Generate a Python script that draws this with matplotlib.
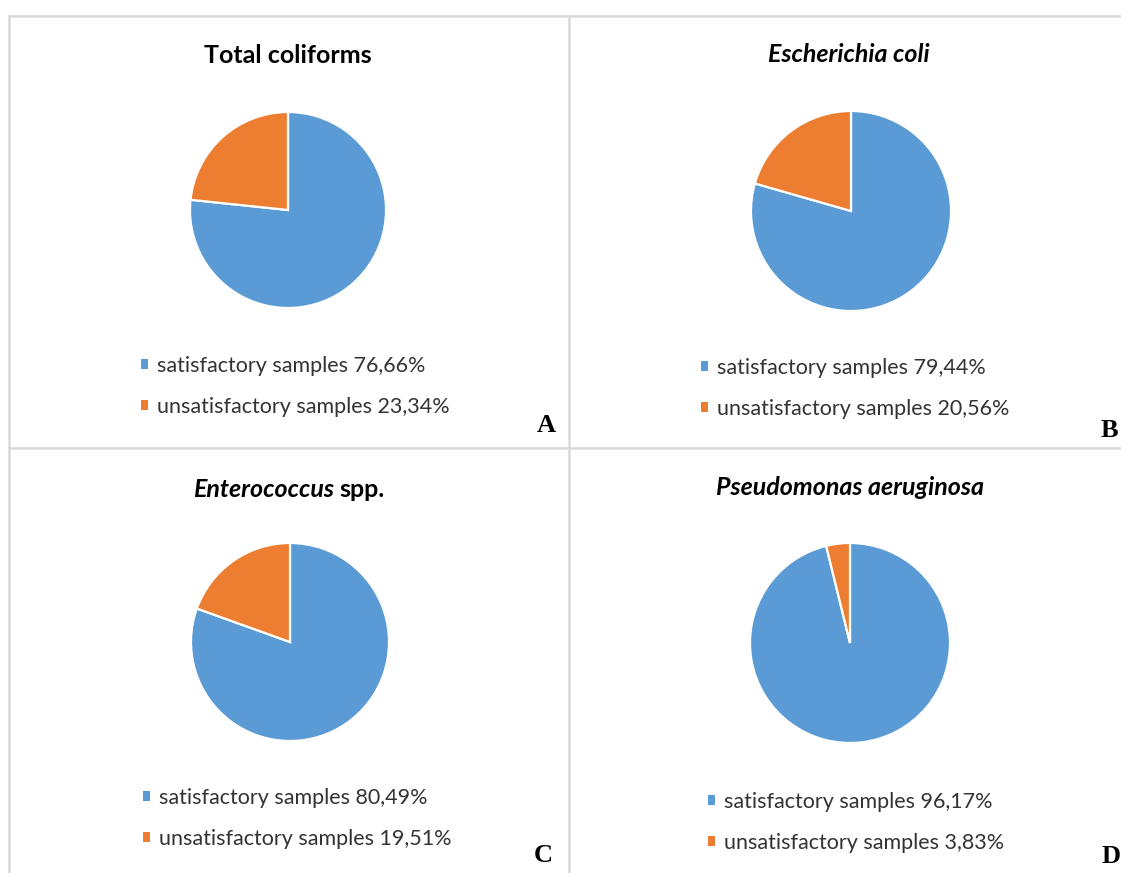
import matplotlib
matplotlib.use('Agg')
import matplotlib.pyplot as plt
from matplotlib.patches import Patch
from matplotlib.lines import Line2D

# dados das quatro análises microbiológicas (%)
categorias = ['satisfactory samples', 'unsatisfactory samples']
satisfatorias = [76.66, 79.44, 80.49, 96.17]
insatisfatorias = [23.34, 20.56, 19.51, 3.83]
letras = ['A', 'B', 'C', 'D']
# títulos em partes: (texto, estilo)
titulos = [
    [('Total coliforms', 'normal')],
    [('Escherichia coli', 'italic')],
    [('Enterococcus', 'italic'), ('spp.', 'normal')],
    [('Pseudomonas aeruginosa', 'italic')],
]
cores = ['#5B9BD5', '#ED7D31']

W, H, DPI = 1121, 873, 100
FONTE = ['Lato', 'DejaVu Sans']

# posição de cada painel em pixels: centro da pizza, raio, título, legenda, letra
layout = [
    dict(c=(288, 210), r=98, tit=(288, 63), leg=(141, 356), let=(537, 432)),
    dict(c=(851, 211), r=100, tit=(849, 62), leg=(701, 358), let=(1101, 437)),
    dict(c=(290, 642), r=99, tit=(289, 497), leg=(143, 788), let=(534, 862)),
    dict(c=(850, 643), r=100, tit=(850, 495), leg=(708, 792), let=(1102, 863)),
]


def fx(x):
    return x / W


def fy(y):
    return 1 - y / H


fig = plt.figure(figsize=(W / DPI, H / DPI), dpi=DPI)
fig.patch.set_facecolor('white')

# linhas de separação dos painéis
cinza = '#d9d9d9'
for (x0, y0, x1, y1) in [(9, 16, W, 16), (9, 448, W, 448), (9, 16, 9, H), (569, 16, 569, H)]:
    fig.add_artist(Line2D([fx(x0), fx(x1)], [fy(y0), fy(y1)], color=cinza, lw=1.8,
                          transform=fig.transFigure))

titulo_partes = []
for i, lay in enumerate(layout):
    cx, cy = lay['c']
    r = lay['r']
    ax = fig.add_axes([fx(cx - r), fy(cy + r), 2 * r / W, 2 * r / H])
    valores = [satisfatorias[i], insatisfatorias[i]]
    ax.pie(valores, colors=cores, startangle=90, counterclock=False, radius=1,
           wedgeprops=dict(edgecolor='white', linewidth=1.6))
    ax.set_xlim(-1, 1)
    ax.set_ylim(-1, 1)
    ax.axis('off')

    # legenda abaixo da pizza
    rotulos = [f'{cat} {v:.2f}%'.replace('.', ',') for cat, v in zip(categorias, valores)]
    handles = [Patch(facecolor=c, edgecolor='none') for c in cores]
    lx, ly = lay['leg']
    fig.legend(handles, rotulos, loc='upper left', bbox_to_anchor=(fx(lx), fy(ly)),
               bbox_transform=fig.transFigure, frameon=False, borderpad=0,
               borderaxespad=0, handlelength=0.33, handleheight=0.33,
               handletextpad=0.4, labelspacing=0.98,
               prop=dict(family=FONTE, size=15.5), labelcolor='#333333')

    # letra do painel
    lx, ly = lay['let']
    fig.text(fx(lx), fy(ly), letras[i], ha='left', va='baseline',
             family='Liberation Serif', weight='bold', size=19, color='black')

    # título (partes com estilos diferentes)
    tx, ty = lay['tit']
    partes = []
    for txt, estilo in titulos[i]:
        t = fig.text(fx(tx), fy(ty), txt, ha='left', va='baseline', family=FONTE,
                     weight='bold', style=estilo, size=18, color='black')
        partes.append(t)
    titulo_partes.append((tx, partes))

# centralizar os títulos depois de medir as partes
fig.canvas.draw()
rend = fig.canvas.get_renderer()
espaco = 5
for tx, partes in titulo_partes:
    larguras = [p.get_window_extent(rend).width for p in partes]
    total = sum(larguras) + espaco * (len(partes) - 1)
    x = tx - total / 2
    for p, w in zip(partes, larguras):
        p.set_x(fx(x))
        x += w + espaco

fig.savefig('out.png', dpi=DPI, facecolor='white')
